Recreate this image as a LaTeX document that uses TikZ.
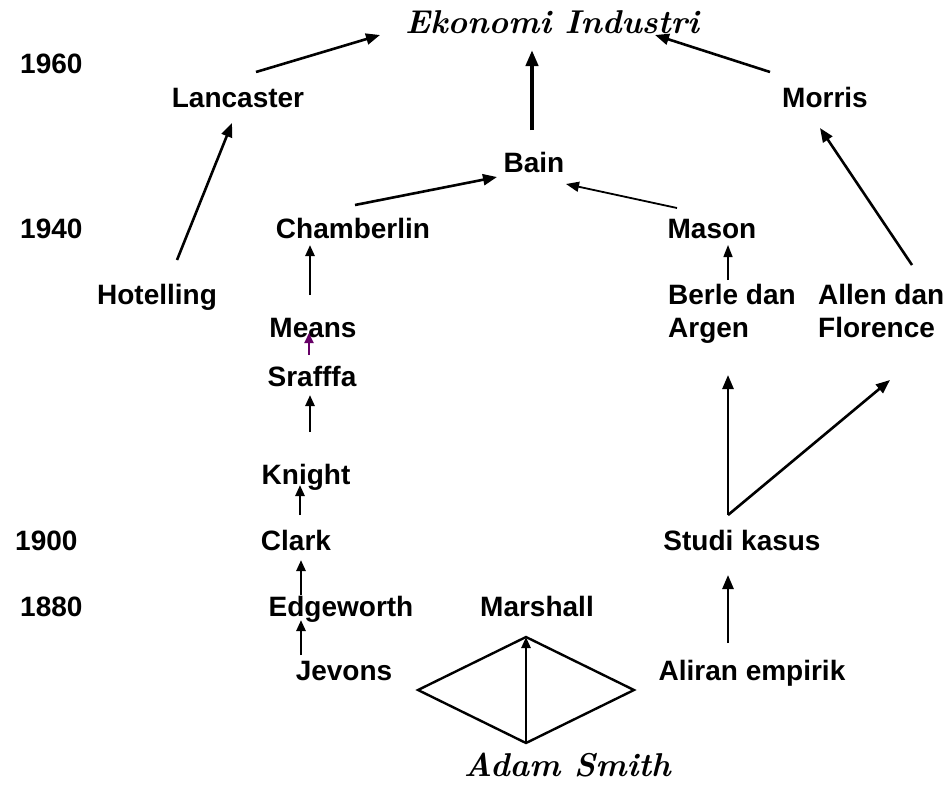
\documentclass[tikz,border=0pt]{standalone}
\usepackage{fontspec}
\setsansfont{Liberation Sans}
\usetikzlibrary{arrows.meta,calc}
\begin{document}
\begin{tikzpicture}[x=1pt,y=-1pt,
  lbl/.style={font=\sffamily\bfseries\fontsize{28}{32}\selectfont, inner sep=0pt, text height=20pt, text depth=0pt},
  lblw/.style={lbl, anchor=west},
  ttl/.style={font=\rmfamily\bfseries\itshape\fontsize{33}{38}\selectfont, inner sep=0pt, anchor=base},
  arr/.style={-{Triangle[length=14pt,width=11pt]}, line width=2.6pt},
  sarr/.style={-{Triangle[length=11pt,width=9pt]}, line width=2.5pt},
  tarr/.style={-{Triangle[length=13pt,width=10pt]}, line width=1.8pt},
  t2arr/.style={-{Triangle[length=12pt,width=9pt]}, line width=1.4pt},
  parr/.style={-{Triangle[length=10pt,width=9pt]}, line width=2.2pt, draw=violet!80!black, fill=violet!80!black},
  barr/.style={-{Triangle[length=16pt,width=12pt]}, line width=4pt},
  dline/.style={line width=2.4pt, line join=miter}]
\useasboundingbox (0,0) rectangle (950,785);
\fill[white] (0,0) rectangle (950,785);
% years
\node[lblw] (y60) at (20,63) {1960};
\node[lblw] (y40) at (20,228) {1940};
\node[lblw] (y00) at (15,540) {1900};
\node[lblw] (y80) at (20,606) {1880};
% titles
\node[ttl] (eko) at (552,33) {Ekonomi Industri};
\node[ttl] (ada) at (567,776) {Adam Smith};
% names
\node[lbl] (lan) at (238,97) {Lancaster};
\node[lbl] (mor) at (825,97) {Morris};
\node[lbl] (bain) at (534,162) {Bain};
\node[lbl] (cha) at (353,228) {Chamberlin};
\node[lbl] (mas) at (712,228) {Mason};
\node[lbl] (hot) at (157,294) {Hotelling};
\node[lblw] (ber1) at (668,294) {Berle dan};
\node[lblw] (ber2) at (668,327) {Argen};
\node[lblw] (all1) at (818,294) {Allen dan};
\node[lblw] (all2) at (818,327) {Florence};
\node[lbl] (mea) at (313,327) {Means};
\node[lbl] (sra) at (312,376) {Srafffa};
\node[lbl] (kni) at (306,474) {Knight};
\node[lbl] (cla) at (296,540) {Clark};
\node[lbl] (stu) at (742,540) {Studi kasus};
\node[lbl] (edg) at (341,606) {Edgeworth};
\node[lbl] (mar) at (537,606) {Marshall};
\node[lbl] (jev) at (344,670) {Jevons};
\node[lbl] (ali) at (752,670) {Aliran empirik};
% top arrows
\draw[arr] ($(lan)+(18,-25)$) -- ($(eko.base)+(-172,2)$);
\draw[arr] ($(mor)+(-55,-25)$) -- ($(eko.base)+(103,2)$);
\draw[barr] ($(bain)+(-2,-32)$) -- ($(eko.base)+(-20,17)$);
\draw[arr] ($(hot)+(20,-34)$) -- ($(lan)+(-6,26)$);
\draw[arr] ($(cha)+(2,-23)$) -- ($(bain)+(-37,15)$);
\draw[tarr] ($(mas)+(-35,-20)$) -- ($(bain)+(32,22)$);
\draw[t2arr] ($(ber1.west)+(60,-14)$) -- ($(mas)+(16,17)$);
\draw[arr] ($(all1.west)+(94,-29)$) -- ($(mor)+(-5,31)$);
% left chain
\draw[sarr] ($(mea)+(-3,-32)$) -- ($(cha)+(-43,17)$);
\draw[parr] ($(sra)+(-3,-21)$) -- ($(mea)+(-4,6)$);
\draw[sarr] ($(kni)+(4,-42)$) -- ($(sra)+(-2,19)$);
\draw[sarr] ($(cla)+(4,-25)$) -- ($(kni)+(-6,11)$);
\draw[sarr] ($(edg)+(-40,-11)$) -- ($(cla)+(5,20)$);
\draw[sarr] ($(jev)+(-43,-15)$) -- ($(edg)+(-40,14)$);
% right chain
\draw[arr] ($(stu)+(-14,-25)$) -- ($(ber2.west)+(60,48)$);
\draw[arr] ($(stu)+(-14,-25)$) -- ($(all2.west)+(72,53)$);
\draw[arr] ($(ali)+(-24,-27)$) -- ($(stu)+(-14,35)$);
% diamond
\coordinate (dtop) at ($(mar)+(-11,31)$);
\coordinate (dbot) at ($(ada.base)+(-41,-33)$);
\coordinate (dl) at (418,690);
\coordinate (dr) at (634,690);
\draw[dline] (dtop) -- (dr) -- (dbot) -- (dl) -- cycle;
\draw[sarr] (dbot) -- (dtop);
\end{tikzpicture}
\end{document}
